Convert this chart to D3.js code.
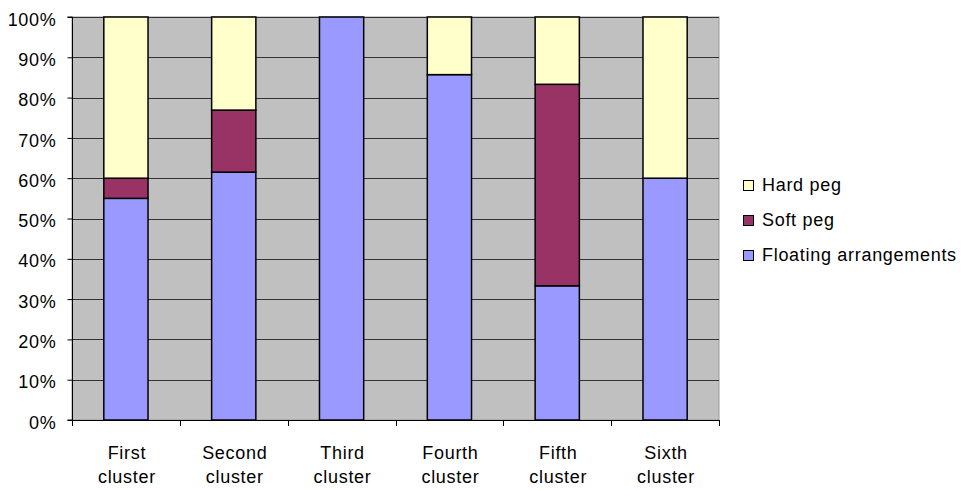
<!DOCTYPE html>
<html>
<head>
<meta charset="utf-8">
<script src="https://cdn.jsdelivr.net/npm/d3@7"></script>
<style>
  body { margin: 0; background: #fff; }
  text { font-family: "Liberation Sans", Arial, sans-serif; fill: #000; letter-spacing: 0.7px; }
</style>
</head>
<body>
<svg id="chart" width="965" height="490"></svg>
<script>
// Exchange-rate regime shares per cluster (percent of members)
const categories = [["First", "cluster"], ["Second", "cluster"], ["Third", "cluster"],
                    ["Fourth", "cluster"], ["Fifth", "cluster"], ["Sixth", "cluster"]];
const floating = [55, 61.5, 100, 85.7, 33.3, 60];
const softPeg  = [5, 15.4, 0, 0, 50, 0];
const hardPeg  = [40, 23.1, 0, 14.3, 16.7, 40];
const seriesNames = ["Floating arrangements", "Soft peg", "Hard peg"];
const seriesColors = ["#9999FF", "#993366", "#FFFFCC"];
const yTicks = [0, 10, 20, 30, 40, 50, 60, 70, 80, 90, 100];

const svg = d3.select("#chart");
const m = { left: 72, top: 17, right: 719, bottom: 420 };

const rows = categories.map((c, i) => ({
  key: i, floating: floating[i], soft: softPeg[i], hard: hardPeg[i]
}));
const stack = d3.stack().keys(["floating", "soft", "hard"]);
const layers = stack(rows);

const x = d3.scaleBand().domain(d3.range(categories.length))
  .range([m.left, m.right]).paddingInner(0.59).paddingOuter(0.295);
const y = d3.scaleLinear().domain([0, 100]).range([m.bottom, m.top]);

// plot area background
svg.append("rect")
  .attr("x", m.left).attr("y", m.top)
  .attr("width", m.right - m.left).attr("height", m.bottom - m.top)
  .attr("fill", "#C0C0C0").attr("stroke", "#999").attr("stroke-width", 1);

// horizontal gridlines
svg.append("g").selectAll("line")
  .data(yTicks.filter(t => t > 0))
  .join("line")
  .attr("x1", m.left).attr("x2", m.right)
  .attr("y1", d => Math.round(y(d)) + 0.5).attr("y2", d => Math.round(y(d)) + 0.5)
  .attr("stroke", "#333").attr("stroke-width", 1);

// stacked bars
svg.append("g").selectAll("g")
  .data(layers)
  .join("g")
  .attr("fill", (d, i) => seriesColors[i])
  .selectAll("rect")
  .data(d => d.filter(p => p[1] - p[0] > 0))
  .join("rect")
  .attr("x", d => x(d.data.key))
  .attr("width", x.bandwidth())
  .attr("y", d => y(d[1]))
  .attr("height", d => y(d[0]) - y(d[1]))
  .attr("stroke", "#000").attr("stroke-width", 1.5);

// y axis
const yAxis = d3.axisLeft(y).tickValues(yTicks).tickFormat(d => d + "%").tickSize(5).tickPadding(11);
const gy = svg.append("g").attr("transform", `translate(${m.left + 0.5},0)`).call(yAxis);
gy.select(".domain").attr("stroke", "#000").attr("d", `M-5,${m.top}H0V${m.bottom}H-5`);
gy.selectAll(".tick line").attr("stroke", "#000");
gy.selectAll("text").style("font-size", "18px").attr("fill", "#000").attr("dy", "0.45em");

// x axis: baseline with tick marks at category boundaries
const gx = svg.append("g");
gx.append("line")
  .attr("x1", m.left).attr("x2", m.right)
  .attr("y1", m.bottom + 0.5).attr("y2", m.bottom + 0.5)
  .attr("stroke", "#000").attr("stroke-width", 1);
const step = (m.right - m.left) / categories.length;
gx.selectAll("line.tk")
  .data(d3.range(categories.length + 1))
  .join("line").attr("class", "tk")
  .attr("x1", d => Math.round(m.left + d * step) + 0.5)
  .attr("x2", d => Math.round(m.left + d * step) + 0.5)
  .attr("y1", m.bottom).attr("y2", m.bottom + 6)
  .attr("stroke", "#000");
gx.selectAll("text")
  .data(categories)
  .join("text")
  .attr("x", (d, i) => x(i) + x.bandwidth() / 2 + 1)
  .attr("y", 459)
  .attr("text-anchor", "middle")
  .style("font-size", "18px")
  .selectAll("tspan")
  .data(d => d)
  .join("tspan")
  .attr("x", function () { return d3.select(this.parentNode).attr("x"); })
  .attr("dy", (d, i) => i === 0 ? 0 : 24)
  .text(d => d);

// legend (drawn top-down: Hard peg, Soft peg, Floating)
const legendItems = [2, 1, 0];
const legendY = [185, 220, 255];
const lg = svg.append("g");
legendItems.forEach((s, i) => {
  lg.append("rect")
    .attr("x", 743.5).attr("y", legendY[i] - 4.5)
    .attr("width", 10).attr("height", 10)
    .attr("fill", seriesColors[s]).attr("stroke", "#000").attr("stroke-width", 1);
  lg.append("text")
    .attr("x", 762).attr("y", legendY[i] + 6)
    .style("font-size", "18px")
    .text(seriesNames[s]);
});
</script>
</body>
</html>
